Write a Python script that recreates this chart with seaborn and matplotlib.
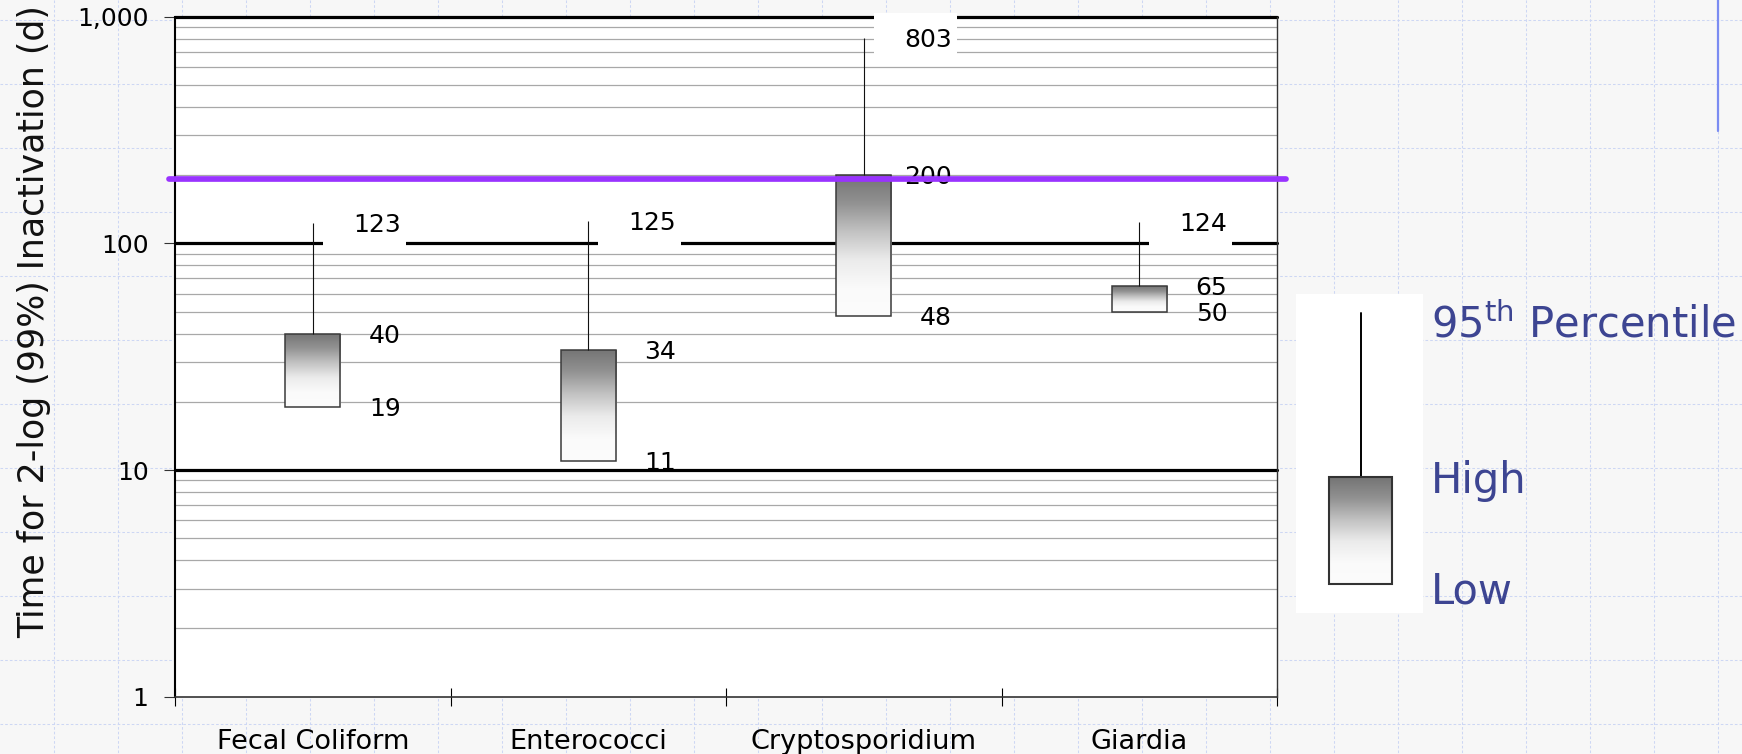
import numpy as np
import pandas as pd
import matplotlib
matplotlib.use("Agg")
import matplotlib.pyplot as plt
import matplotlib.transforms as mtransforms
from matplotlib.patches import Rectangle
from matplotlib.colors import LinearSegmentedColormap
import seaborn as sns

# ---- data -------------------------------------------------------------
categories = ["Fecal Coliform", "Enterococci", "Cryptosporidium", "Giardia"]
low_days = [19, 11, 48, 50]
high_days = [40, 34, 200, 65]
p95_days = [123, 125, 803, 124]
threshold_days = 193

y_ticks = [1, 10, 100, 1000]
y_tick_labels = ["1", "10", "100", "1,000"]
y_title = "Time for 2-log (99%) Inactivation (d)"
legend_labels = [r"95$^{\mathrm{th}}$ Percentile", "High", "Low"]

# ---- figure setup -----------------------------------------------------
W, H, DPI = 1742, 754, 100
sns.set_theme(style="white")
plt.rcParams["font.family"] = ["DejaVu Sans"]
plt.rcParams["mathtext.fontset"] = "dejavusans"

fig = plt.figure(figsize=(W / DPI, H / DPI), dpi=DPI, facecolor="#f7f7f7")

# graph-paper backdrop, laid out in pixel units (y downwards)
bg = fig.add_axes([0, 0, 1, 1], zorder=-5)
bg.patch.set_visible(False)
bg.set_axis_off()
paper = dict(color="#cdd7f4", lw=0.75, ls=(0, (2.5, 2)), zorder=0)
for gx in np.arange(54, W, 64):
    bg.plot([gx, gx], [0, H], **paper)
for gy in np.arange(20, H, 64):
    bg.plot([0, W], [gy, gy], **paper)
bg.plot([1718, 1718], [0, 131], color="#7b8cf2", lw=1.6, zorder=1)

gray_cmap = LinearSegmentedColormap.from_list(
    "box_fill", ["#747474", "#929292", "#c2c2c2", "#ebebeb", "#fafafa", "#fcfcfc"])
ramp = np.linspace(0, 1, 256)[:, None]

# ---- main chart -------------------------------------------------------
ax = fig.add_axes([175 / W, 1 - 696.7 / H, 1102 / W, 680 / H])
ax.set_facecolor("white")
ax.set_yscale("log")
ax.set_ylim(1, 1000)
ax.set_axisbelow(True)

df = pd.DataFrame({"organism": categories, "low": low_days,
                   "high": high_days, "p95": p95_days})
df["span"] = df["high"] - df["low"]

sns.barplot(data=df, x="organism", y="span", bottom=df["low"], width=0.2,
            color="white", edgecolor="#3a3a3a", linewidth=1.1,
            errorbar=None, ax=ax, zorder=4)
ax.set_xlim(-0.5, len(categories) - 0.5)
ax.set_ylim(1, 1000)

# gradient fill inside each box (dark top, fading to white)
bars = list(ax.containers[0])
for bar in bars:
    bar.set_facecolor("none")
    ext = bar.get_window_extent()
    (x0, y0), (x1, y1) = ax.transAxes.inverted().transform(ext.get_points())
    im = ax.imshow(ramp, cmap=gray_cmap, vmin=0, vmax=1, aspect="auto",
                   extent=[x0, x1, y0, y1], origin="upper",
                   transform=ax.transAxes, interpolation="bilinear",
                   zorder=3.9)
    im.set_clip_path(bar)
    ax.set_xlim(-0.5, len(categories) - 0.5)
    ax.set_ylim(1, 1000)

# whiskers up to the 95th percentile
ax.vlines(range(len(categories)), df["high"], df["p95"],
          color="#111111", lw=0.8, zorder=5)

# horizontal grid: thin grey minors, heavy black decades
ax.grid(False)
ax.yaxis.grid(True, which="minor", color="#a8a8a8", lw=0.9)
for v in y_ticks[1:]:
    ax.axhline(v, color="black", lw=2.3, zorder=2, clip_on=False)

# value labels, right-aligned beside each box
label_kw = dict(textcoords="offset points", ha="right", va="baseline",
                fontsize=18, color="black", zorder=5.5, annotation_clip=False)
for i, (lo, hi, p) in enumerate(zip(low_days, high_days, p95_days)):
    for v in (lo, hi):
        ax.annotate(f"{v}", xy=(i, v), xytext=(63.4, -6.5), **label_kw)
    # white plate behind the percentile label
    plate = mtransforms.ScaledTranslation(i, p, ax.transData)
    ax.add_patch(Rectangle((10 / DPI, -26 / DPI), 83 / DPI, 51 / DPI,
                           transform=fig.dpi_scale_trans + plate,
                           facecolor="white", edgecolor="none",
                           zorder=3, clip_on=False))
    ax.annotate(f"{p}", xy=(i, p), xytext=(63.4, -6.5), **label_kw)

# reference line
ax.axhline(threshold_days, xmin=-0.005, xmax=1.008, color="#9933ff",
           lw=4.1, zorder=6, clip_on=False)

# axes styling
ax.set_yticks(y_ticks, y_tick_labels)
ax.set_xticks(range(len(categories)), categories)
ax.set_xticks(np.arange(-0.5, len(categories)), minor=True)
ax.tick_params(axis="y", which="major", direction="out", length=8, width=0.8,
               color="#333333", pad=11, labelsize=18, labelcolor="black",
               left=True)
ax.tick_params(axis="y", which="minor", length=0, left=False)
ax.tick_params(axis="x", which="major", length=0, pad=23, labelsize=19.5,
               labelcolor="black", bottom=True)
ax.tick_params(axis="x", which="minor", direction="inout", length=13,
               width=0.8, color="black", bottom=True)
ax.set_xlabel("")
ax.set_ylabel("")
ax.spines["top"].set_visible(False)
ax.spines["left"].set_color("black")
ax.spines["left"].set_linewidth(1.5)
ax.spines["bottom"].set_color("#333333")
ax.spines["bottom"].set_linewidth(1.2)
ax.spines["right"].set_color("#333333")
ax.spines["right"].set_linewidth(1.0)
ax.set_xlim(-0.5, len(categories) - 0.5)
ax.set_ylim(1, 1000)

fig.text(34 / W, 1 - 322 / H, y_title, rotation=90, ha="center",
         va="center", fontsize=25, color="#111111")

# ---- key on the right -------------------------------------------------
bg.add_patch(Rectangle((1296, 294), 127, 319, facecolor="white",
                       edgecolor="none", zorder=2))
bg.plot([1361, 1361], [313, 477], color="black", lw=1.4, zorder=3)
key = Rectangle((1329, 477), 63, 107, facecolor="none", edgecolor="#333333",
                lw=1.5, zorder=4)
bg.add_patch(key)
kim = bg.imshow(ramp, cmap=gray_cmap, vmin=0, vmax=1, aspect="auto",
                extent=[1329, 1392, 584, 477], origin="upper",
                interpolation="bilinear", zorder=3.5)
kim.set_clip_path(key)
key_text = dict(fontsize=30, color="#3d4592", ha="left", va="baseline",
                zorder=5)
bg.text(1431, 337, legend_labels[0], **key_text)
bg.text(1431, 493, legend_labels[1], **key_text)
bg.text(1431, 604, legend_labels[2], **key_text)
bg.set_xlim(0, W)
bg.set_ylim(H, 0)

fig.savefig("out.png", dpi=DPI, facecolor=fig.get_facecolor())
